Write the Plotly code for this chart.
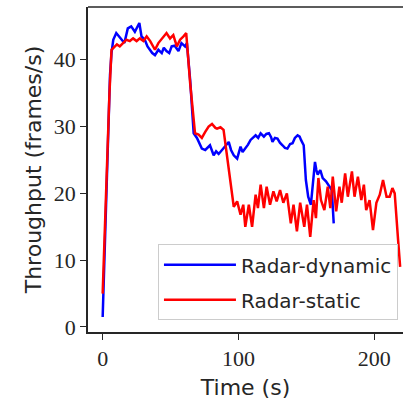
import plotly.graph_objects as go

# Radar-dynamic series
t_dyn = [0, 5.4, 6.5, 7.8, 10, 12, 13.8, 16, 18.5, 21, 23.7, 25.5, 27, 28.6, 31, 33, 34.8,
         36.5, 38.5, 41, 43.5, 45, 47, 49, 50.8, 53, 55.8, 58, 60.7, 62, 64.4, 67, 69.4,
         71.8, 73, 75.5, 76.8, 78, 79, 81.7, 83.5, 85.4, 87, 89, 91, 92.8, 94.5, 96.5, 99,
         101.5, 103, 105, 107, 108.9, 110.5, 112.6, 114.5, 116.3, 118.7, 120.5, 122.4, 124,
         125, 126.8, 128.7, 130.5, 132.4, 134.2, 136, 138, 139.8, 141.5, 143.5, 145, 146,
         148, 149.6, 151.3, 153.3, 154.6, 156.3, 157.3, 158.3, 160.2, 162, 164.4, 167,
         168.7, 170.1]
y_dyn = [1.5, 37.7, 41, 43, 44, 43.5, 43, 42.5, 44.7, 45, 44.2, 45, 45.5, 43.5, 43, 42,
         41.5, 41, 40.7, 41.5, 41, 41.8, 41.3, 41, 42, 42.1, 41.3, 42.5, 42, 42.5, 37, 29,
         28.3, 27.2, 26.7, 26.5, 26.8, 27, 27.2, 25.7, 26.3, 25.9, 26.3, 26.7, 27.3, 27.7,
         26.5, 25.7, 25.2, 27, 26.2, 26.7, 27.3, 28, 28.3, 28.7, 28.3, 29, 28.5, 28.9, 29,
         28.4, 27.7, 28.3, 28.2, 27.6, 27.2, 26.8, 26.7, 27.4, 27.5, 28.3, 28.7, 28.5, 28,
         27.2, 22, 19.5, 18.3, 21, 24.7, 23.5, 22.8, 23.5, 22.3, 21.8, 21, 20.5, 15.5]

# Radar-static series
t_sta = [0, 2.7, 5, 6.5, 9, 10.5, 12.6, 15, 17.5, 20, 22.4, 25, 27.4, 30, 32.4, 35, 37,
         38.5, 41, 43, 44.7, 47, 49.6, 52, 54.6, 57, 59.5, 61.5, 64.4, 68, 70.6, 73, 75.5,
         78, 80.5, 83, 84.2, 86.7, 89, 90.4, 91.6, 92.8, 94, 96.5, 99, 101.5, 103.5, 105,
         107.6, 110, 112.6, 114.3, 116.3, 118.7, 120.7, 123.2, 125.7, 128.1, 130.6, 133,
         135.6, 138.5, 140.5, 143, 145.4, 148.4, 150.4, 152.8, 155.3, 157, 158.8, 160.7,
         163.2, 165.7, 167.6, 169.4, 171.9, 174.3, 176, 178.5, 180.5, 183.5, 185.4, 187.9,
         190.4, 192.3, 194, 196.5, 199, 201.5, 204, 206.4, 209, 211.3, 213.3, 215, 217.5,
         219]
y_sta = [5, 22, 35, 41.5, 42, 42.3, 42, 42.5, 43, 42.8, 43.2, 42.8, 43.2, 42.8, 43.5, 42.8,
         42, 41.5, 42.5, 43, 43.5, 44, 43.2, 43.7, 42, 43, 43.5, 44, 36.5, 29, 28.8, 28.3,
         29.2, 30, 30.4, 29.8, 29.7, 29.9, 29.5, 27.5, 25.5, 23.5, 22.3, 18, 18.8, 16.8,
         18.3, 15, 18.3, 15, 19.8, 17.8, 21.3, 17.8, 21, 18.3, 20.3, 18.8, 20.5, 18.6, 20,
         15.5, 18.3, 14.3, 18.6, 15, 18.3, 13.5, 19, 16.3, 22.3, 19, 17.5, 21, 17.8, 22.5,
         17.3, 21, 18.6, 23, 19.5, 23.3, 19.5, 22.5, 19, 21.3, 17.5, 19, 14.5, 18.6, 19.8,
         22, 19.5, 19.5, 20.8, 20, 13, 9]

x_ticks = [0, 100, 200]
y_ticks = [0, 10, 20, 30, 40]

axis_color = "#262626"
tick_font = dict(family="Liberation Serif", size=22, color=axis_color)
title_font = dict(family="DejaVu Sans", size=22, color=axis_color)

fig = go.Figure()
fig.add_trace(go.Scatter(x=t_dyn, y=y_dyn, mode="lines", name="Radar-dynamic",
                         legendgroup="dyn",
                         line=dict(color="#0000ff", width=2.5)))
fig.add_trace(go.Scatter(x=t_sta, y=y_sta, mode="lines", name="Radar-static",
                         legendgroup="sta",
                         line=dict(color="#ff0000", width=2.5)))

fig.update_layout(
    width=403, height=405,
    margin=dict(l=88, r=0, t=7, b=73),
    paper_bgcolor="white", plot_bgcolor="white",
    showlegend=True,
    legend=dict(x=0.984, y=0.036, xanchor="right", yanchor="bottom",
                bgcolor="rgba(255,255,255,0.8)", bordercolor="#cccccc", borderwidth=1,
                font=dict(family="DejaVu Sans", size=20, color=axis_color),
                itemwidth=72, traceorder="grouped", tracegroupgap=6),
    xaxis=dict(range=[-10.8, 221.1], tickvals=x_ticks, ticktext=[str(v) for v in x_ticks],
               showgrid=False, zeroline=False, showline=True, linecolor=axis_color,
               linewidth=1.5, ticks="outside", ticklen=6, tickwidth=1.3, tickcolor=axis_color,
               tickfont=tick_font, title=dict(text="Time (s)", font=title_font, standoff=9)),
    yaxis=dict(range=[-0.75, 47.9], tickvals=y_ticks, ticktext=[str(v) for v in y_ticks],
               showgrid=False, zeroline=False, showline=True, linecolor=axis_color,
               linewidth=1.5, ticks="outside", ticklen=6, tickwidth=1.3, tickcolor=axis_color,
               tickfont=tick_font,
               title=dict(text="Throughput (frames/s)", font=title_font, standoff=6)),
    shapes=[dict(type="line", xref="paper", yref="paper", x0=0, x1=1, y0=1, y1=1,
                 line=dict(color=axis_color, width=1.5))],
)

fig.write_html("out.html")
